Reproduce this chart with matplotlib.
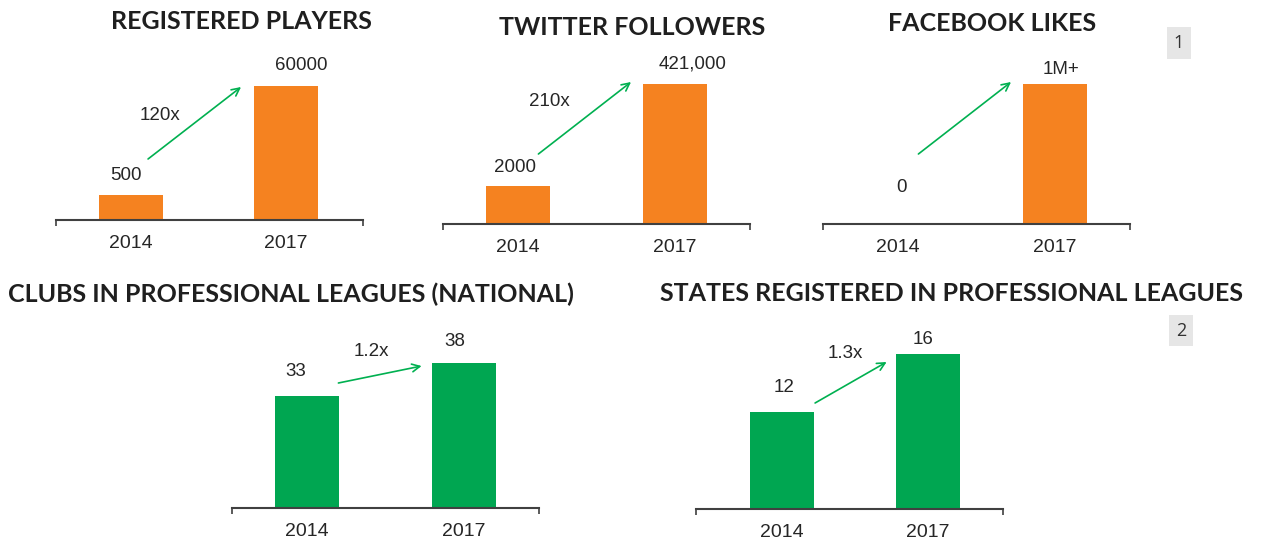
import matplotlib
matplotlib.use("Agg")
import matplotlib.pyplot as plt
from matplotlib.patches import Rectangle

# ---------------- data ----------------
titles = ["REGISTERED PLAYERS", "TWITTER FOLLOWERS", "FACEBOOK LIKES",
          "CLUBS IN PROFESSIONAL LEAGUES (NATIONAL)",
          "STATES REGISTERED IN PROFESSIONAL LEAGUES"]
years = ["2014", "2017"]
value_labels = [["500", "60000"], ["2000", "421,000"], ["0", "1M+"],
                ["33", "38"], ["12", "16"]]
growth_labels = ["120x", "210x", "", "1.2x", "1.3x"]
# bar heights as drawn in the picture (relative visual units)
bar_heights = [[25, 134], [38, 140], [0, 140], [112, 145], [97, 155]]
bar_colors = ["#F58220", "#F58220", "#F58220", "#00A651", "#00A651"]

# ---------------- layout (pixels of a 1270x544 canvas) ----------------
W, H = 1270, 544
# left, right of axis line, centre of 1st and 2nd bar, baseline y
frames = [(56, 363, 131, 286, 220),
          (443, 750, 518, 675, 224),
          (823, 1130, 898, 1055, 224),
          (232, 539, 307, 464, 508),
          (696, 1003, 781.5, 927.5, 509)]
title_pos = [(241, 29), (632, 35), (992, 31), (291, 302), (951, 301)]
# label offsets (dx in category units, dy in visual units above bar)
val_off = [[(-0.03, 19), (0.10, 21)], [(-0.02, 19), (0.11, 20)],
           [(0.02, 36), (0.04, 14)], [(-0.07, 25), (-0.06, 21)],
           [(0.02, 25), (-0.03, 15)]]
growth_pos = [(0.19, 105), (0.20, 122), None, (0.41, 157), (0.44, 156)]
arrows = [((0.11, 61), (0.71, 133)), ((0.13, 70), (0.72, 142)),
          ((0.13, 70), (0.72, 142)), ((0.20, 125), (0.73, 142)),
          ((0.23, 106), (0.72, 147))]
AX_H = 200

TEXT = "#262626"
AXIS = "#404040"
ARROW = "#00B050"

fig = plt.figure(figsize=(W / 100, H / 100), dpi=100)
fig.patch.set_facecolor("white")

for k in range(5):
    l, r, c0, c1, base = frames[k]
    s = c1 - c0
    ax = fig.add_axes([l / W, 1 - base / H, (r - l) / W, AX_H / H])
    ax.set_xlim((l - c0) / s, (r - c0) / s)
    ax.set_ylim(0, AX_H)
    ax.patch.set_alpha(0)
    xs = [0, 1]
    ax.bar(xs, bar_heights[k], width=64 / s, color=bar_colors[k], zorder=2)
    for sp in ["top", "left", "right"]:
        ax.spines[sp].set_visible(False)
    ax.spines["bottom"].set_color(AXIS)
    ax.spines["bottom"].set_linewidth(1.5)
    ax.spines["bottom"].set_zorder(3)
    ax.set_yticks([])
    ax.set_xticks(xs)
    ax.set_xticklabels(years, fontsize=14, color=TEXT, family="Liberation Sans")
    ax.tick_params(axis="x", which="major", length=0, pad=11)
    ax.set_xticks(list(ax.get_xlim()), minor=True)
    ax.tick_params(axis="x", which="minor", length=4, width=1.2, color=AXIS,
                   direction="out")
    for i in range(2):
        dx, dy = val_off[k][i]
        ax.text(i + dx, bar_heights[k][i] + dy, value_labels[k][i],
                ha="center", va="center", fontsize=13.5, color=TEXT,
                family="Liberation Sans")
    if growth_pos[k] is not None:
        gx, gy = growth_pos[k]
        ax.text(gx, gy, growth_labels[k], ha="center", va="center",
                fontsize=13.5, color=TEXT, family="Liberation Sans")
    (x0, y0), (x1, y1) = arrows[k]
    ax.annotate("", xy=(x1, y1), xytext=(x0, y0),
                arrowprops=dict(arrowstyle="->", color=ARROW, lw=1.2,
                                mutation_scale=14, shrinkA=0, shrinkB=0))
    tx, ty = title_pos[k]
    fig.text(tx / W, 1 - ty / H, titles[k], ha="center", va="baseline",
             fontsize=18, fontweight="bold", color="#1f1f1f", family="Lato")

# page-number boxes
for num, (bx0, by0, bx1, by1) in [("1", (1167, 27, 1191, 59)),
                                  ("2", (1169, 315, 1193, 346))]:
    fig.patches.append(Rectangle((bx0 / W, 1 - by1 / H), (bx1 - bx0) / W,
                                 (by1 - by0) / H, transform=fig.transFigure,
                                 facecolor="#E6E6E6", edgecolor="none"))
    fig.text((bx0 + bx1) / 2 / W, 1 - (by0 + by1) / 2 / H, num, ha="center",
             va="center", fontsize=13, color="#333333", family="Open Sans")

fig.savefig("out.png", dpi=100, facecolor="white")
